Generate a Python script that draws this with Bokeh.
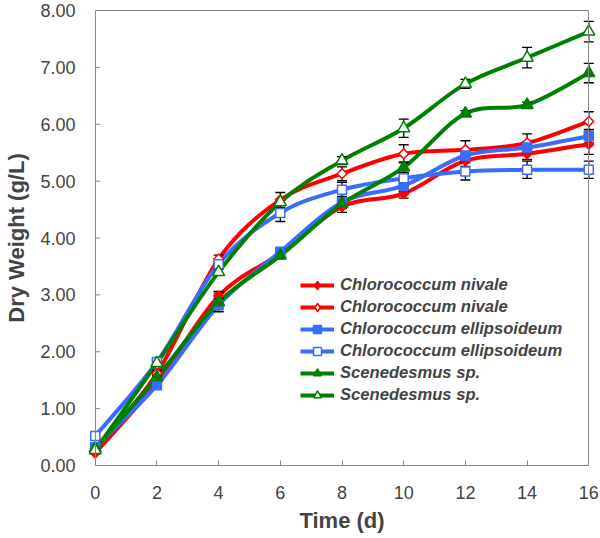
import numpy as np
from bokeh.plotting import figure
from bokeh.models import (Range1d, FixedTicker, LinearAxis, Legend, LegendItem,
                          ColumnDataSource)
from bokeh.embed import file_html
from bokeh.resources import INLINE

# ---------------- data ----------------
days = [0, 2, 4, 6, 8, 10, 12, 14, 16]
x_ticks = [0, 2, 4, 6, 8, 10, 12, 14, 16]
y_ticks = [0, 1, 2, 3, 4, 5, 6, 7, 8]
y_tick_labels = ["0.00", "1.00", "2.00", "3.00", "4.00", "5.00", "6.00", "7.00", "8.00"]

nivale_a = [0.22, 1.46, 2.98, 3.73, 4.55, 4.78, 5.36, 5.48, 5.65]
nivale_a_err = [0.02, 0.05, 0.08, 0.06, 0.10, 0.08, 0.10, 0.10, 0.18]
nivale_b = [0.30, 1.62, 3.63, 4.67, 5.13, 5.48, 5.55, 5.67, 6.05]
nivale_b_err = [0.02, 0.05, 0.07, 0.13, 0.12, 0.16, 0.16, 0.16, 0.17]
ellip_a = [0.32, 1.41, 2.82, 3.76, 4.63, 4.92, 5.45, 5.59, 5.79]
ellip_a_err = [0.02, 0.04, 0.12, 0.05, 0.10, 0.10, 0.10, 0.10, 0.12]
ellip_b = [0.52, 1.82, 3.54, 4.44, 4.85, 5.05, 5.17, 5.20, 5.20]
ellip_b_err = [0.02, 0.04, 0.05, 0.15, 0.13, 0.10, 0.15, 0.15, 0.15]
scen_a = [0.30, 1.55, 2.87, 3.69, 4.60, 5.24, 6.19, 6.34, 6.90]
scen_a_err = [0.02, 0.04, 0.16, 0.05, 0.08, 0.10, 0.05, 0.05, 0.17]
scen_b = [0.27, 1.80, 3.40, 4.63, 5.36, 5.93, 6.71, 7.17, 7.63]
scen_b_err = [0.02, 0.04, 0.05, 0.05, 0.07, 0.16, 0.08, 0.18, 0.18]

labels = ["Chlorococcum nivale", "Chlorococcum nivale",
          "Chlorococcum ellipsoideum", "Chlorococcum ellipsoideum",
          "Scenedesmus sp.", "Scenedesmus sp."]

RED, BLUE, GREEN = "#FF0000", "#3A6CFF", "#008000"
# (label, values, errors, colour, plot marker, size, angle, legend marker, legend size, filled)
series = [
    (labels[0], nivale_a, nivale_a_err, RED, "square", 7, np.pi / 4, "diamond", 11, True),
    (labels[1], nivale_b, nivale_b_err, RED, "square", 7, np.pi / 4, "diamond", 11, False),
    (labels[2], ellip_a, ellip_a_err, BLUE, "square", 9, 0, "square", 9, True),
    (labels[3], ellip_b, ellip_b_err, BLUE, "square", 9, 0, "square", 9, False),
    (labels[4], scen_a, scen_a_err, GREEN, "triangle", 12, 0, "triangle", 12, True),
    (labels[5], scen_b, scen_b_err, GREEN, "triangle", 12, 0, "triangle", 12, False),
]

FONT = "Liberation Sans"
AXIS_COLOR = "#888888"


def smooth_segments(xs, ys, t=1.0 / 6.0):
    xs = np.asarray(xs, float)
    ys = np.asarray(ys, float)
    n = len(xs)
    xp = np.concatenate([[xs[0]], xs, [xs[-1]]])
    yp = np.concatenate([[ys[0]], ys, [ys[-1]]])
    i = np.arange(n - 1)
    return dict(
        x0=xs[i], y0=ys[i], x1=xs[i + 1], y1=ys[i + 1],
        cx0=xs[i] + (xs[i + 1] - xp[i]) * t,
        cy0=ys[i] + (ys[i + 1] - yp[i]) * t,
        cx1=xs[i + 1] - (xp[i + 3] - xs[i]) * t,
        cy1=ys[i + 1] - (yp[i + 3] - ys[i]) * t,
    )


p = figure(width=600, height=538,
           x_range=Range1d(-0.25, 16.25), y_range=Range1d(0, 8),
           x_axis_type=None, y_axis_type=None,
           output_backend="svg", toolbar_location=None,
           min_border_left=87, min_border_right=4,
           min_border_top=10, min_border_bottom=73)
p.outline_line_color = None
p.background_fill_color = "white"
p.border_fill_color = "white"

# bottom axis
xaxis = LinearAxis(ticker=FixedTicker(ticks=x_ticks), bounds=(0, 16))
xaxis.axis_label = "Time (d)"
xaxis.axis_label_text_font = FONT
xaxis.axis_label_text_font_style = "bold"
xaxis.axis_label_text_font_size = "22px"
xaxis.axis_label_standoff = 6
xaxis.major_label_text_font = FONT
xaxis.major_label_text_font_size = "18px"
xaxis.major_label_standoff = 20
xaxis.major_tick_in = 5
xaxis.major_tick_out = 0
xaxis.minor_tick_line_color = None
xaxis.axis_line_color = AXIS_COLOR
xaxis.major_tick_line_color = AXIS_COLOR
p.add_layout(xaxis, "below")

# left axis: labels and title (placed in the side panel)
ylab = LinearAxis(ticker=FixedTicker(ticks=y_ticks))
ylab.major_label_overrides = {t: s for t, s in zip(y_ticks, y_tick_labels)}
ylab.major_label_text_font = FONT
ylab.major_label_text_font_size = "18px"
ylab.major_label_standoff = 12
ylab.major_tick_in = 0
ylab.major_tick_out = 0
ylab.major_tick_line_color = None
ylab.minor_tick_line_color = None
ylab.axis_line_color = None
ylab.axis_label = "Dry Weight (g/L)"
ylab.axis_label_text_font = FONT
ylab.axis_label_text_font_style = "bold"
ylab.axis_label_text_font_size = "22px"
ylab.axis_label_standoff = 8
p.add_layout(ylab, "left")

# left spine at x = 0 (line only) and its inward ticks
yspine = LinearAxis(ticker=FixedTicker(ticks=[]), fixed_location=x_ticks[0])
yspine.axis_line_color = AXIS_COLOR
yspine.major_tick_line_color = None
yspine.minor_tick_line_color = None
p.add_layout(yspine, "left")
p.ray(x=[x_ticks[0]] * len(y_ticks), y=y_ticks, length=5, length_units="screen",
      angle=0, line_color=AXIS_COLOR, line_width=1)

top_axis = LinearAxis(ticker=FixedTicker(ticks=[]), bounds=(0, 16))
top_axis.axis_line_color = AXIS_COLOR
top_axis.major_tick_line_color = None
top_axis.minor_tick_line_color = None
p.add_layout(top_axis, "above")

right_axis = LinearAxis(ticker=FixedTicker(ticks=[]), fixed_location=x_ticks[-1])
right_axis.axis_line_color = AXIS_COLOR
right_axis.major_tick_line_color = None
right_axis.minor_tick_line_color = None
p.add_layout(right_axis, "right")

# smoothed lines
for s in series:
    label, vals, errs, color = s[:4]
    src = ColumnDataSource(smooth_segments(days, vals))
    p.bezier(x0="x0", y0="y0", x1="x1", y1="y1", cx0="cx0", cy0="cy0",
             cx1="cx1", cy1="cy1", source=src, line_color=color, line_width=4)

# error bars
for s in series:
    label, vals, errs, color = s[:4]
    v = np.asarray(vals)
    e = np.asarray(errs)
    p.segment(x0=days, y0=v - e, x1=days, y1=v + e, line_color="black", line_width=1.3)
    p.scatter(x=days + days, y=list(v - e) + list(v + e), marker="dash", size=10,
              line_color="black", line_width=1.3)

# markers + legend proxies
items = []
for label, vals, errs, color, marker, size, ang, lmarker, lsize, filled in series:
    fill = color if filled else "white"
    p.scatter(x=days, y=vals, marker=marker, size=size, angle=ang,
              fill_color=fill, line_color=color, line_width=1.5)
    ln = p.line(x=[np.nan], y=[np.nan], line_color=color, line_width=4)
    mk = p.scatter(x=[np.nan], y=[np.nan], marker=lmarker, size=lsize,
                   fill_color=fill, line_color=color, line_width=1.5)
    items.append(LegendItem(label=label, renderers=[ln, mk]))

legend = Legend(items=items, location=(213, 60))
legend.padding = 0
legend.margin = 0
legend.spacing = 2
legend.glyph_width = 34
legend.glyph_height = 20
legend.label_height = 20
legend.label_standoff = 6
legend.label_text_font = FONT
legend.label_text_font_style = "bold italic"
legend.label_text_font_size = "16.6px"
legend.border_line_color = None
legend.background_fill_alpha = 0
p.add_layout(legend)

open("out.html", "w").write(file_html(p, INLINE))
